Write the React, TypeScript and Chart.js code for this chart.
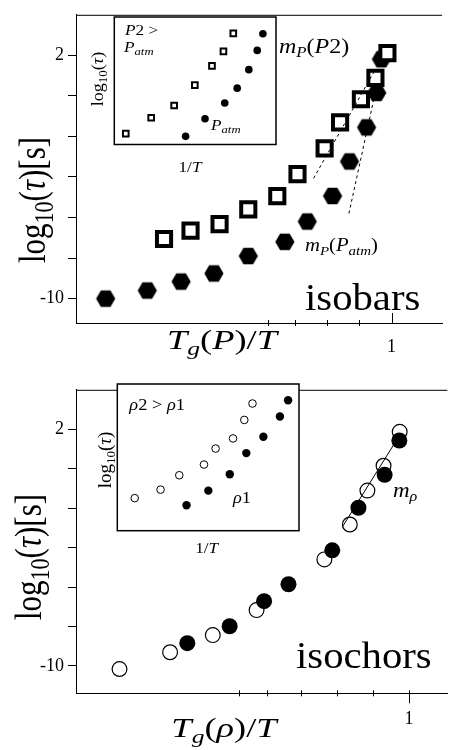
import React, { useEffect, useRef } from "react";
import { Chart, registerables } from "chart.js";

Chart.register(...registerables);

const FONT = '"Liberation Serif", "Times New Roman", serif';

// ---------------- Top panel: isobars ----------------
const isobarXTicks = [0.607, 0.694, 0.796, 0.898, 1.0];
const isobarYTicks = [-10, -8, -6, -4, -2, 0, 2];
const isobarXLabels = ["1"];
const isobarYLabels = ["2", "-10"];
const p2X = [0.279, 0.363, 0.455, 0.546, 0.638, 0.702, 0.788, 0.837, 0.903, 0.949, 0.987];
const p2Y = [-7.06, -6.65, -6.33, -5.6, -4.95, -3.86, -2.59, -1.31, -0.17, 0.88, 2.1];
const patmX = [0.094, 0.226, 0.333, 0.437, 0.546, 0.662, 0.733, 0.813, 0.867, 0.921, 0.953, 0.968];
const patmY = [-10, -9.6, -9.16, -8.76, -7.9, -7.2, -6.2, -4.94, -3.24, -1.56, 0.14, 1.8];
const slopeP2X = [0.753, 0.946];
const slopeP2Y = [-4.07, 1.22];
const slopePatmX = [0.865, 0.95];
const slopePatmY = [-5.8, 0.27];

// inset (arbitrary units 0..100)
const insetP2X = [7.1, 22.8, 37.0, 49.8, 60.4, 67.5, 73.6];
const insetP2Y = [8.5, 21.0, 30.6, 46.6, 61.7, 73.1, 87.2];
const insetPatmX = [44.1, 56.1, 68.3, 76.0, 83.2, 88.4, 91.9];
const insetPatmY = [6.4, 20.2, 32.6, 44.2, 58.7, 73.8, 86.9];

// ---------------- Bottom panel: isochors ----------------
const isochorXTicks = [0.525, 0.603, 0.7, 0.8, 0.9, 1.0];
const isochorYTicks = [-10, -8, -6, -4, -2, 0, 2];
const isochorXLabels = ["1"];
const isochorYLabels = ["2", "-10"];
const rho2X = [0.193, 0.334, 0.453, 0.575, 0.764, 0.835, 0.884, 0.929, 0.974];
const rho2Y = [-10.16, -9.31, -8.44, -7.17, -4.6, -2.83, -1.11, 0.15, 1.87];
const rho1X = [0.382, 0.5, 0.596, 0.664, 0.786, 0.859, 0.932, 0.973];
const rho1Y = [-8.85, -7.99, -6.72, -5.86, -4.14, -1.98, -0.31, 1.43];
const slopeRhoX = [0.814, 0.977];
const slopeRhoY = [-2.96, 1.79];

const insetRho2X = [9.6, 23.8, 34.1, 47.7, 54.1, 63.7, 69.9, 74.4];
const insetRho2Y = [22.2, 28.0, 37.8, 45.1, 56.0, 62.9, 75.5, 86.7];
const insetRho1X = [38.1, 50.1, 61.9, 71.0, 80.4, 89.5, 94.0];
const insetRho1Y = [17.3, 27.3, 38.5, 52.9, 64.0, 77.8, 88.9];

type Seg = { t: string; it?: boolean; sub?: boolean };

function drawRich(
  ctx: CanvasRenderingContext2D,
  segs: Seg[],
  x: number,
  y: number,
  size: number,
  align: "left" | "center",
  rot: number,
  stretch: number
) {
  ctx.save();
  ctx.translate(x, y);
  ctx.scale(stretch, 1);
  if (rot) ctx.rotate(rot);
  ctx.fillStyle = "#000";
  ctx.textAlign = "left";
  ctx.textBaseline = "alphabetic";
  const fontOf = (s: Seg) =>
    `${s.it ? "italic " : ""}${s.sub ? Math.round(size * 0.7) : size}px ${FONT}`;
  const widths = segs.map((s) => {
    ctx.font = fontOf(s);
    return ctx.measureText(s.t).width;
  });
  const total = widths.reduce((a, b) => a + b, 0);
  let cx = align === "center" ? -total / 2 : 0;
  segs.forEach((s, i) => {
    ctx.font = fontOf(s);
    ctx.fillText(s.t, cx, s.sub ? size * 0.22 : 0);
    cx += widths[i];
  });
  ctx.restore();
}

type TextItem = {
  segs: Seg[];
  x: number;
  y: number;
  size: number;
  align: "left" | "center";
  rot?: number;
  stretch?: number;
};

const toPts = (xs: number[], ys: number[]) => xs.map((x, i) => ({ x, y: ys[i] }));

function makeHex(R: number): HTMLCanvasElement {
  const c = document.createElement("canvas");
  const s = Math.ceil(2 * R + 2);
  c.width = s;
  c.height = s;
  const g = c.getContext("2d")!;
  g.beginPath();
  for (let i = 0; i < 6; i++) {
    const a = (i * Math.PI) / 3;
    const px = s / 2 + R * Math.cos(a);
    const py = s / 2 + R * Math.sin(a);
    if (i === 0) g.moveTo(px, py);
    else g.lineTo(px, py);
  }
  g.closePath();
  g.fillStyle = "#000";
  g.fill();
  return c;
}

type MainCfg = {
  xMin: number;
  xMax: number;
  yMin: number;
  yMax: number;
  xTicks: number[];
  yTicks: number[];
  xLabels: string[];
  yLabels: string[];
  padTop: number;
  xHeight: number;
  xLabelPad: number;
  oneTickUp: boolean;
  texts: TextItem[];
  datasets: any[];
};

function makeMain(canvas: HTMLCanvasElement, cfg: MainCfg) {
  const framePlugin = {
    id: "frame",
    afterDraw(chart: any) {
      const { ctx, chartArea } = chart;
      const xs = chart.scales.x;
      ctx.save();
      ctx.strokeStyle = "#000";
      ctx.lineWidth = 1;
      ctx.beginPath();
      ctx.moveTo(chartArea.left, chartArea.top + 0.5);
      ctx.lineTo(chartArea.right, chartArea.top + 0.5);
      ctx.stroke();
      const yb = chartArea.bottom;
      cfg.xTicks.forEach((v) => {
        const px = Math.round(xs.getPixelForValue(v)) + 0.5;
        ctx.beginPath();
        if (v === 1) {
          if (cfg.oneTickUp) {
            ctx.moveTo(px, yb - 10);
            ctx.lineTo(px, yb);
          } else {
            ctx.moveTo(px, yb - 3);
            ctx.lineTo(px, yb + 10);
          }
        } else {
          ctx.moveTo(px, yb - 3);
          ctx.lineTo(px, yb + 3);
        }
        ctx.stroke();
      });
      ctx.restore();
      cfg.texts.forEach((t) =>
        drawRich(ctx, t.segs, t.x, t.y, t.size, t.align, t.rot || 0, t.stretch || 1.15)
      );
    },
  };
  return new Chart(canvas, {
    type: "scatter",
    data: { datasets: cfg.datasets },
    options: {
      animation: false,
      responsive: false,
      devicePixelRatio: 1,
      layout: { padding: { top: cfg.padTop, right: 0, left: 0, bottom: 0 } },
      plugins: { legend: { display: false }, tooltip: { enabled: false } },
      events: [],
      scales: {
        x: {
          type: "linear",
          min: cfg.xMin,
          max: cfg.xMax,
          afterBuildTicks: (s: any) => {
            s.ticks = cfg.xTicks.map((v) => ({ value: v }));
          },
          afterFit: (s: any) => {
            s.height = cfg.xHeight;
          },
          grid: { display: true, drawOnChartArea: false, drawTicks: false },
          border: { display: true, color: "#000", width: 1 },
          ticks: {
            autoSkip: false,
            maxRotation: 0,
            padding: cfg.xLabelPad,
            color: "#000",
            font: { family: FONT, size: 18 },
            callback: (v: any) => (v === 1 ? cfg.xLabels[0] : ""),
          },
        },
        y: {
          type: "linear",
          min: cfg.yMin,
          max: cfg.yMax,
          afterBuildTicks: (s: any) => {
            s.ticks = cfg.yTicks.map((v) => ({ value: v }));
          },
          afterFit: (s: any) => {
            s.width = 76;
          },
          grid: {
            display: true,
            drawOnChartArea: false,
            drawTicks: true,
            tickLength: 8,
            tickColor: "#000",
          },
          border: { display: true, color: "#000", width: 1 },
          ticks: {
            autoSkip: false,
            padding: 4,
            color: "#000",
            font: { family: FONT, size: 18 },
            callback: (v: any) =>
              v === 2 ? cfg.yLabels[0] : v === -10 ? cfg.yLabels[1] : "",
          },
        },
      },
    },
    plugins: [framePlugin],
  } as any);
}

type InsetCfg = {
  pad: { left: number; right: number; top: number; bottom: number };
  texts: TextItem[];
  datasets: any[];
};

function makeInset(canvas: HTMLCanvasElement, cfg: InsetCfg) {
  const boxPlugin = {
    id: "box",
    beforeDatasetsDraw(chart: any) {
      const { ctx, chartArea } = chart;
      ctx.save();
      ctx.fillStyle = "#fff";
      ctx.fillRect(chartArea.left, chartArea.top, chartArea.width, chartArea.height);
      ctx.restore();
    },
    afterDraw(chart: any) {
      const { ctx, chartArea } = chart;
      ctx.save();
      ctx.strokeStyle = "#000";
      ctx.lineWidth = 1.5;
      ctx.strokeRect(chartArea.left, chartArea.top, chartArea.width, chartArea.height);
      ctx.restore();
      cfg.texts.forEach((t) =>
        drawRich(ctx, t.segs, t.x, t.y, t.size, t.align, t.rot || 0, t.stretch || 1.15)
      );
    },
  };
  return new Chart(canvas, {
    type: "scatter",
    data: { datasets: cfg.datasets },
    options: {
      animation: false,
      responsive: false,
      devicePixelRatio: 1,
      events: [],
      layout: { padding: cfg.pad },
      plugins: { legend: { display: false }, tooltip: { enabled: false } },
      scales: {
        x: { type: "linear", min: 0, max: 100, display: false },
        y: { type: "linear", min: 0, max: 100, display: false },
      },
    },
    plugins: [boxPlugin],
  } as any);
}

const logTau = (): Seg[] => [
  { t: "log" },
  { t: "10", sub: true },
  { t: "(" },
  { t: "τ", it: true },
  { t: ")" },
];

export default function App() {
  const topRef = useRef<HTMLCanvasElement>(null);
  const topInsetRef = useRef<HTMLCanvasElement>(null);
  const botRef = useRef<HTMLCanvasElement>(null);
  const botInsetRef = useRef<HTMLCanvasElement>(null);

  useEffect(() => {
    const hexBig = makeHex(9.6);
    const charts: Chart[] = [];

    charts.push(
      makeMain(topRef.current!, {
        xMin: 0,
        xMax: 1.16,
        yMin: -11.2,
        yMax: 3.99,
        xTicks: isobarXTicks,
        yTicks: isobarYTicks,
        xLabels: isobarXLabels,
        yLabels: isobarYLabels,
        padTop: 10,
        xHeight: 52,
        xLabelPad: 13,
        oneTickUp: true,
        texts: [
          {
            segs: [...logTau(), { t: "[s]" }],
            x: 45,
            y: 200,
            size: 31,
            align: "center",
            rot: -Math.PI / 2,
            stretch: 1.2,
          },
          {
            segs: [
              { t: "T", it: true },
              { t: "g", it: true, sub: true },
              { t: "(" },
              { t: "P", it: true },
              { t: ")/" },
              { t: "T", it: true },
            ],
            x: 222,
            y: 349,
            size: 27,
            align: "center",
            stretch: 1.35,
          },
          { segs: [{ t: "isobars" }], x: 305, y: 310, size: 37, align: "left", stretch: 1.1 },
          {
            segs: [
              { t: "m", it: true },
              { t: "P", it: true, sub: true },
              { t: "(" },
              { t: "P", it: true },
              { t: "2" },
              { t: ")" },
            ],
            x: 279,
            y: 53,
            size: 20,
            align: "left",
            stretch: 1.2,
          },
          {
            segs: [
              { t: "m", it: true },
              { t: "P", it: true, sub: true },
              { t: "(" },
              { t: "P", it: true },
              { t: "atm", it: true, sub: true },
              { t: ")" },
            ],
            x: 305,
            y: 251,
            size: 18,
            align: "left",
            stretch: 1.15,
          },
        ],
        datasets: [
          {
            label: "slope P2",
            data: toPts(slopeP2X, slopeP2Y),
            showLine: true,
            borderColor: "#000",
            borderWidth: 1,
            borderDash: [3, 3],
            pointRadius: 0,
          },
          {
            label: "slope Patm",
            data: toPts(slopePatmX, slopePatmY),
            showLine: true,
            borderColor: "#000",
            borderWidth: 1,
            borderDash: [3, 3],
            pointRadius: 0,
          },
          {
            label: "P2",
            data: toPts(p2X, p2Y),
            pointStyle: "rect",
            pointRadius: 10,
            pointBorderWidth: 4,
            pointBorderColor: "#000",
            pointBackgroundColor: "#fff",
          },
          {
            label: "Patm",
            data: toPts(patmX, patmY),
            pointStyle: hexBig,
            pointRadius: 9,
          },
        ],
      })
    );

    charts.push(
      makeInset(topInsetRef.current!, {
        pad: { left: 26.3, right: 3.7, top: 1, bottom: 36.5 },
        texts: [
          {
            segs: [{ t: "P", it: true }, { t: "2 >" }],
            x: 37,
            y: 24,
            size: 15,
            align: "left",
          },
          {
            segs: [{ t: "P", it: true }, { t: "atm", it: true, sub: true }],
            x: 36,
            y: 40.5,
            size: 15,
            align: "left",
          },
          {
            segs: [{ t: "P", it: true }, { t: "atm", it: true, sub: true }],
            x: 123,
            y: 119,
            size: 15,
            align: "left",
          },
          {
            segs: logTau(),
            x: 15,
            y: 68,
            size: 18,
            align: "center",
            rot: -Math.PI / 2,
            stretch: 0.95,
          },
          {
            segs: [{ t: "1/" }, { t: "T", it: true }],
            x: 102,
            y: 161,
            size: 15,
            align: "center",
          },
        ],
        datasets: [
          {
            data: toPts(insetP2X, insetP2Y),
            pointStyle: "rect",
            pointRadius: 4,
            pointBorderWidth: 2,
            pointBorderColor: "#000",
            pointBackgroundColor: "#fff",
          },
          {
            data: toPts(insetPatmX, insetPatmY),
            pointStyle: "circle",
            pointRadius: 3.8,
            pointBorderWidth: 0,
            pointBackgroundColor: "#000",
          },
        ],
      })
    );

    charts.push(
      makeMain(botRef.current!, {
        xMin: 0.0717,
        xMax: 1.107,
        yMin: -11.39,
        yMax: 4.0,
        xTicks: isochorXTicks,
        yTicks: isochorYTicks,
        xLabels: isochorXLabels,
        yLabels: isochorYLabels,
        padTop: 5,
        xHeight: 56.7,
        xLabelPad: 15,
        oneTickUp: false,
        texts: [
          {
            segs: [...logTau(), { t: "[s]" }],
            x: 41,
            y: 182,
            size: 31,
            align: "center",
            rot: -Math.PI / 2,
            stretch: 1.2,
          },
          {
            segs: [
              { t: "T", it: true },
              { t: "g", it: true, sub: true },
              { t: "(" },
              { t: "ρ", it: true },
              { t: ")/" },
              { t: "T", it: true },
            ],
            x: 224,
            y: 362,
            size: 27,
            align: "center",
            stretch: 1.35,
          },
          { segs: [{ t: "isochors" }], x: 296, y: 293, size: 37, align: "left", stretch: 1.1 },
          {
            segs: [
              { t: "m", it: true },
              { t: "ρ", it: true, sub: true },
            ],
            x: 393,
            y: 122,
            size: 20,
            align: "left",
            stretch: 1.15,
          },
        ],
        datasets: [
          {
            label: "slope rho",
            data: toPts(slopeRhoX, slopeRhoY),
            showLine: true,
            borderColor: "#000",
            borderWidth: 1,
            pointRadius: 0,
          },
          {
            label: "rho1",
            data: toPts(rho1X, rho1Y),
            pointStyle: "circle",
            pointRadius: 8,
            pointBorderWidth: 0,
            pointBackgroundColor: "#000",
          },
          {
            label: "rho2",
            data: toPts(rho2X, rho2Y),
            pointStyle: "circle",
            pointRadius: 7.4,
            pointBorderWidth: 1.2,
            pointBorderColor: "#000",
            pointBackgroundColor: "rgba(255,255,255,0)",
          },
        ],
      })
    );

    charts.push(
      makeInset(botInsetRef.current!, {
        pad: { left: 25.3, right: 3.3, top: 2, bottom: 28.3 },
        texts: [
          {
            segs: [{ t: "ρ", it: true }, { t: "2 > " }, { t: "ρ", it: true }, { t: "1" }],
            x: 37.3,
            y: 31,
            size: 16,
            align: "left",
          },
          {
            segs: [{ t: "ρ", it: true }, { t: "1" }],
            x: 141,
            y: 124,
            size: 16,
            align: "left",
          },
          {
            segs: logTau(),
            x: 19,
            y: 81,
            size: 19,
            align: "center",
            rot: -Math.PI / 2,
            stretch: 0.95,
          },
          {
            segs: [{ t: "1/" }, { t: "T", it: true }],
            x: 114.7,
            y: 174,
            size: 15,
            align: "center",
          },
        ],
        datasets: [
          {
            data: toPts(insetRho1X, insetRho1Y),
            pointStyle: "circle",
            pointRadius: 4.2,
            pointBorderWidth: 0,
            pointBackgroundColor: "#000",
          },
          {
            data: toPts(insetRho2X, insetRho2Y),
            pointStyle: "circle",
            pointRadius: 3.8,
            pointBorderWidth: 1,
            pointBorderColor: "#000",
            pointBackgroundColor: "#fff",
          },
        ],
      })
    );

    return () => charts.forEach((c) => c.destroy());
  }, []);

  const abs = (left: number, top: number, width: number, height: number, z: number) =>
    ({ position: "absolute", left, top, width, height, zIndex: z } as React.CSSProperties);

  return (
    <div style={{ position: "absolute", left: 0, top: 0, width: 456, height: 750, background: "#fff", overflow: "hidden" }}>
      <canvas ref={topRef} width={456} height={375} style={abs(0, 0, 456, 375, 1)} />
      <canvas ref={botRef} width={456} height={375} style={abs(0, 375, 456, 375, 1)} />
      <canvas ref={topInsetRef} width={194} height={170} style={abs(88, 11, 194, 170, 2)} />
      <canvas ref={botInsetRef} width={212} height={180} style={abs(92, 379, 212, 180, 2)} />
    </div>
  );
}
